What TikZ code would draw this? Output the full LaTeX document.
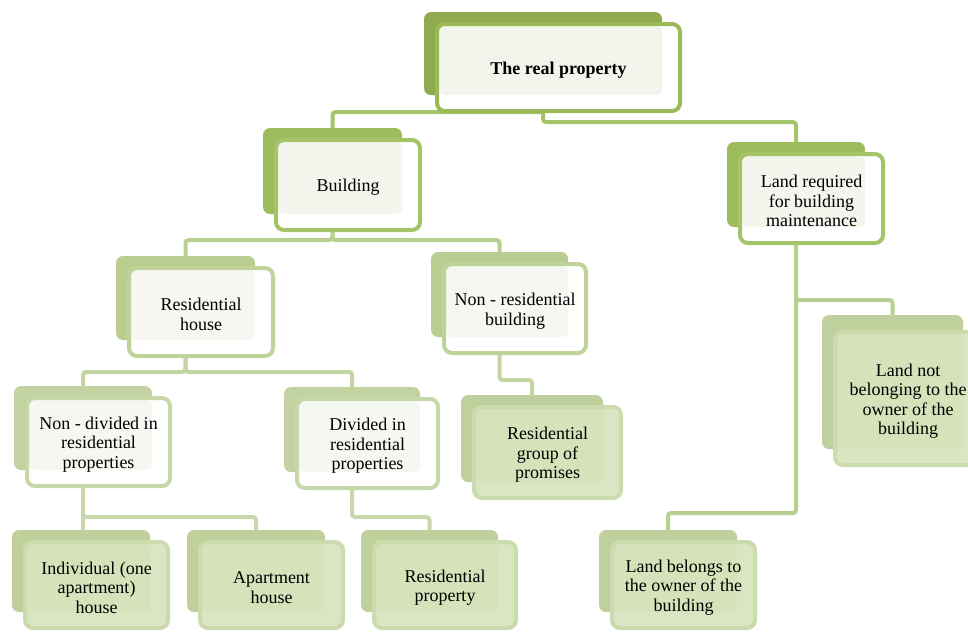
\documentclass[tikz,border=0pt]{standalone}
\usepackage{fontspec}
\setmainfont{Liberation Serif}
\usetikzlibrary{calc}
\pgfdeclarelayer{conn}
\pgfdeclarelayer{boxes}
\pgfsetlayers{conn,boxes,main}
% level A (root)
\definecolor{Aback}{HTML}{8FAA4F}
\definecolor{Afill}{HTML}{FFFFFF}
\definecolor{Alight}{HTML}{F2F5EB}
\definecolor{Aborder}{HTML}{9BBB59}
% level B
\definecolor{Bback}{HTML}{9DBC5E}
\definecolor{Bfill}{HTML}{FFFFFF}
\definecolor{Blight}{HTML}{F3F6EC}
\definecolor{Bborder}{HTML}{A5C367}
% level C
\definecolor{Cback}{HTML}{B9CD91}
\definecolor{Cfill}{HTML}{FFFFFF}
\definecolor{Clight}{HTML}{F5F7F0}
\definecolor{Cborder}{HTML}{BED29A}
% level D
\definecolor{Dback}{HTML}{C2D3A1}
\definecolor{Dfill}{HTML}{FFFFFF}
\definecolor{Dlight}{HTML}{F5F8F0}
\definecolor{Dborder}{HTML}{C6D7A8}
% leaves
\definecolor{Eback}{HTML}{BFD09C}
\definecolor{Efill}{HTML}{DAE5C3}
\definecolor{Elight}{HTML}{D5E2BA}
\definecolor{Eborder}{HTML}{CCDBAE}
% connectors
\definecolor{LnkA}{HTML}{A6C46C}
\definecolor{LnkB}{HTML}{B9CF8F}
\definecolor{LnkC}{HTML}{C3D5A3}
\definecolor{LnkD}{HTML}{C8D8AA}
\tikzset{
  boxshape/.style={inner sep=0pt, outer sep=0pt},
  boxtext/.style={inner sep=0pt, outer sep=0pt, align=center,
    font=\fontsize{18}{19.5}\selectfont, text=black},
  link/.style={line width=4pt, rounded corners=3pt},
}
% #1 colour set, #2 name, #3 x, #4 y, #5 w, #6 h, #7 top offset of back, #8 text
\newcommand{\treebox}[8]{%
  \node[boxshape, minimum width=#5pt, minimum height=#6pt] (#2) at (#3,#4) {};
  \node[boxtext] (#2-t) at ($(#2.center)+(0,2.5)$) {#8};
  \begin{pgfonlayer}{boxes}
    \fill[#1back, rounded corners=7pt] ($(#2.north west)+(-13,-#7)$) rectangle ($(#2.south east)+(-18,-16)$);
    \fill[#1fill, rounded corners=8pt] (#2.north west) rectangle (#2.south east);
    \fill[#1light, rounded corners=6pt] ($(#2.north west)+(2,2)$) rectangle ($(#2.south east)+(-18,-16)$);
    \draw[#1border, line width=4pt, rounded corners=8pt] (#2.north west) rectangle (#2.south east);
  \end{pgfonlayer}
  \coordinate (#2-bt) at ($(#2.north)+(-15.5,-#7)$);
  \coordinate (#2-bs) at ($(#2.south)+(-15.5,-16)$);
}
\begin{document}
\begin{tikzpicture}[x=1pt,y=-1pt]
\useasboundingbox (0,0) rectangle (968,633);
\treebox{A}{top}{558.5}{67.5}{243}{87}{12}{\textbf{The real property}}
\treebox{B}{build}{348}{185}{144}{90}{12}{Building}
\treebox{B}{land}{811.5}{198.5}{143}{89}{12}{Land required\\for building\\maintenance}
\treebox{C}{reshouse}{201}{312}{144}{88}{12}{Residential\\house}
\treebox{C}{nonres}{515}{308.5}{142}{89}{12}{Non - residential\\building}
\treebox{D}{nondiv}{98.5}{442}{143}{88}{12}{Non - divided in\\residential\\properties}
\treebox{D}{divided}{367.5}{443.5}{141}{89}{12}{Divided in\\residential\\properties}
\treebox{E}{resgroup}{547.5}{452.5}{147}{91}{12}{Residential\\group of\\promises}
\treebox{E}{landnot}{908}{398.5}{146}{133}{17}{Land not\\belonging to the\\owner of the\\building}
\treebox{E}{indiv}{96.5}{585}{143}{86}{12}{Individual (one\\apartment)\\house}
\treebox{E}{apart}{271.5}{585}{143}{86}{12}{Apartment\\house}
\treebox{E}{resprop}{445}{585}{142}{86}{12}{Residential\\property}
\treebox{E}{landbel}{683.5}{585}{143}{86}{12}{Land belongs to\\the owner of the\\building}
\begin{pgfonlayer}{conn}
  \draw[link, LnkA] (top-bs) -- (top-bs |- 0,112) -| (build-bt);
  \draw[link, LnkA] (top-bs) -- (top-bs |- 0,122) -| (land-bt);
  \draw[link, LnkB] (build-bs) -- (build-bs |- 0,240) -| (reshouse-bt);
  \draw[link, LnkB] (build-bs) -- (build-bs |- 0,240) -| (nonres-bt);
  \draw[link, LnkB] (land-bs) -- (land-bs |- 0,300) -| (landnot-bt);
  \draw[link, LnkB] (land-bs) -- (land-bs |- 0,513) -| (landbel-bt);
  \draw[link, LnkC] (reshouse-bs) -- (reshouse-bs |- 0,372) -| (nondiv-bt);
  \draw[link, LnkC] (reshouse-bs) -- (reshouse-bs |- 0,372) -| (divided-bt);
  \draw[link, LnkC] (nonres-bs) -- (nonres-bs |- 0,380) -| (resgroup-bt);
  \draw[link, LnkD] (nondiv-bs) -- (nondiv-bs |- indiv-bt);
  \draw[link, LnkD] (nondiv-bs) -- (nondiv-bs |- 0,517) -| (apart-bt);
  \draw[link, LnkD] (divided-bs) -- (divided-bs |- 0,517) -| (resprop-bt);
\end{pgfonlayer}
\end{tikzpicture}
\end{document}
